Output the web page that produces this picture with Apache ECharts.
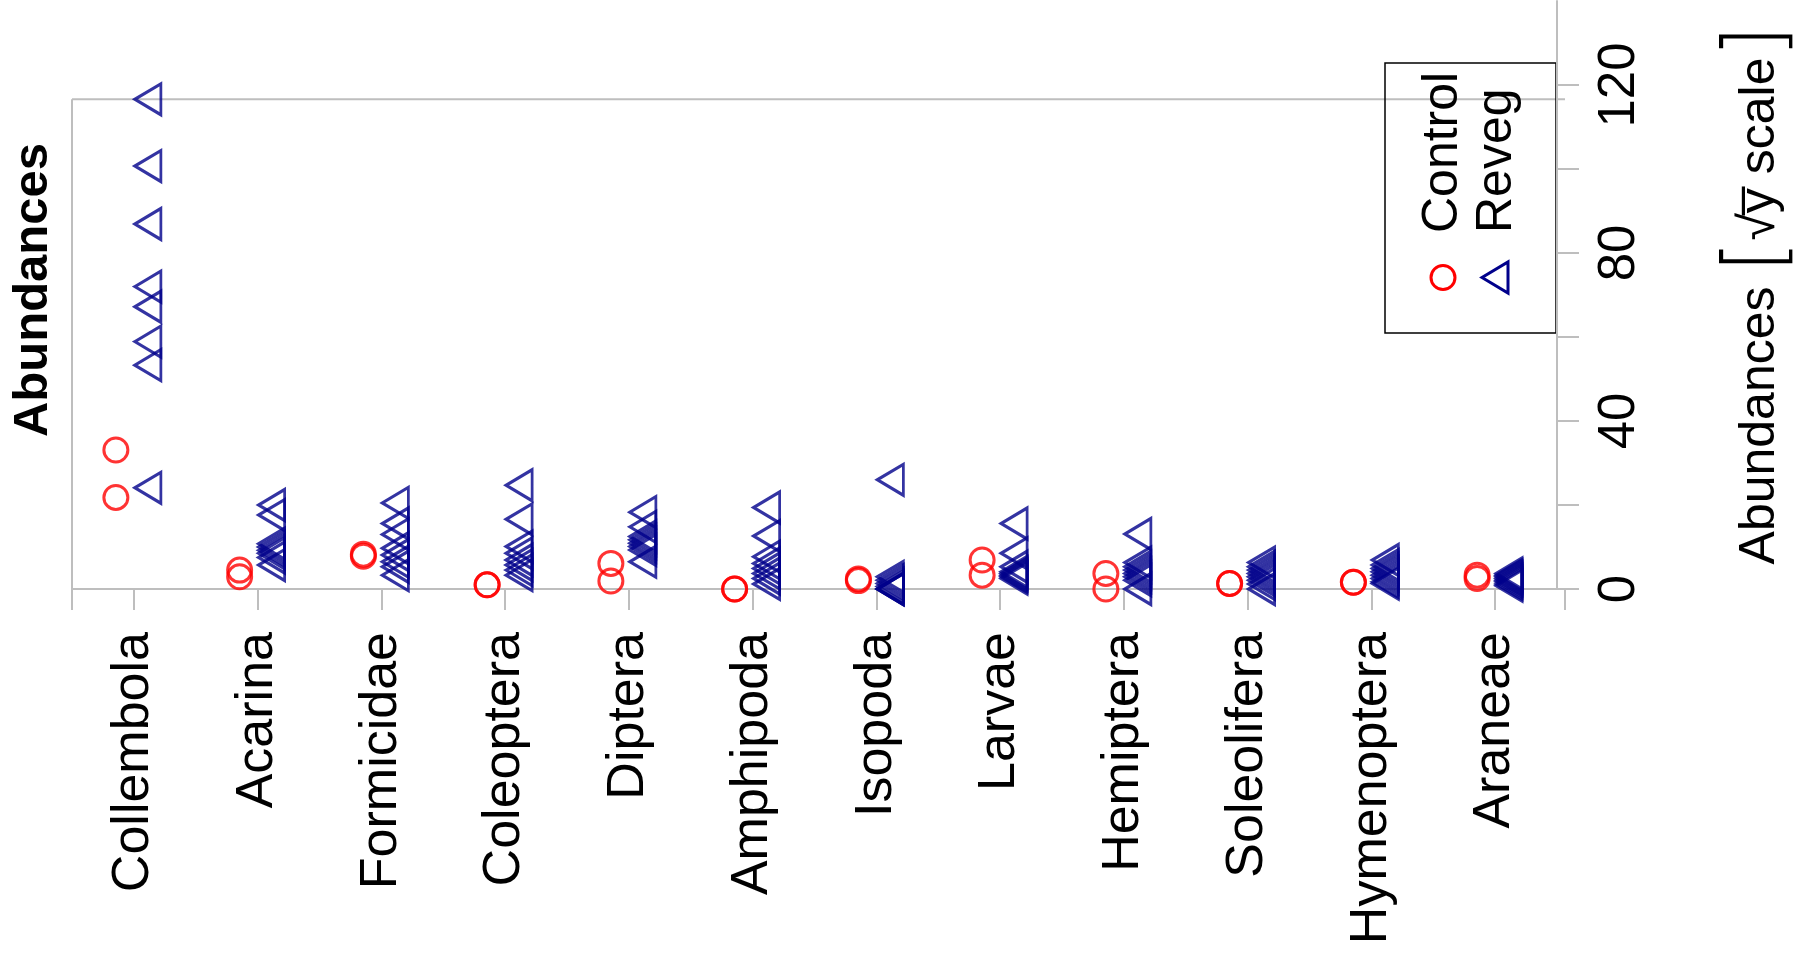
<!DOCTYPE html>
<html>
<head>
<meta charset="utf-8">
<script src="https://cdn.jsdelivr.net/npm/echarts@6/dist/echarts.min.js"></script>
<style>
  html, body { margin: 0; padding: 0; background: #ffffff; }
  #chart { width: 1809px; height: 955px; }
</style>
</head>
<body>
<div id="chart"></div>
<script>
// Taxa on the horizontal axis
const taxa = ['Collembola', 'Acarina', 'Formicidae', 'Coleoptera', 'Diptera', 'Amphipoda',
              'Isopoda', 'Larvae', 'Hemiptera', 'Soleolifera', 'Hymenoptera', 'Araneae'];

// Abundances per plot, one list per taxon (2 control plots, 8 revegetated plots)
const controlCounts = [
  [33.1, 21.8], [4.5, 2.9], [8.3, 7.8], [1.0, 1.0], [6.1, 1.9], [0, 0],
  [2.4, 2.0], [6.9, 3.3], [3.7, 0], [1.3, 1.3], [1.6, 1.6], [3.3, 2.5]
];
const revegCounts = [
  [116.6, 100.7, 86.9, 72.0, 67.2, 58.9, 53.3, 24.1],
  [20.0, 17.6, 10.8, 10.0, 9.2, 8.5, 7.5, 5.7],
  [20.5, 15.6, 13.0, 9.7, 8.1, 6.5, 5.3, 3.3],
  [24.7, 16.6, 10.1, 8.5, 6.9, 5.7, 4.5, 3.3],
  [18.3, 14.8, 12.5, 11.7, 10.9, 10.1, 9.3, 6.5],
  [19.4, 12.6, 7.7, 6.1, 4.9, 3.7, 2.5, 1.2],
  [26.0, 2.9, 2.1, 1.3, 0.6, 0, 0, 0],
  [15.6, 8.5, 5.3, 4.1, 3.7, 3.3, 2.9, 2.5],
  [13.1, 6.3, 5.3, 4.5, 3.7, 2.9, 2.1, 0],
  [6.3, 5.3, 4.5, 3.7, 2.9, 2.1, 1.2, 0],
  [6.9, 5.7, 4.9, 4.1, 3.3, 2.5, 1.7, 1.3],
  [3.7, 3.3, 2.9, 2.5, 2.1, 1.7, 1.2, 0.8]
];

// Right-hand axis ticks and labels
const tickValues = [0, 20, 40, 60, 80, 100, 120];
const labelValues = [0, 40, 80, 120];
const axisMax = 140;

const groups = ['Control', 'Reveg'];

const FONT = "'Liberation Sans', Arial, Helvetica, sans-serif";
const GRAY = '#bebebe';
const RED = '#ff0000';
const BLUE = '#00008b';

const GRID = { left: 72, right: 244, top: 1, bottom: 366 };
const W = 1809;
const plotRight = W - GRID.right;

function toPoints(lists) {
  const pts = [];
  lists.forEach((vals, i) => vals.forEach(v => pts.push([taxa[i], v])));
  return pts;
}

const chart = echarts.init(document.getElementById('chart'), null, { renderer: 'canvas' });

chart.setOption({
  animation: false,
  backgroundColor: '#ffffff',
  textStyle: { fontFamily: FONT },
  grid: GRID,
  xAxis: {
    type: 'category',
    data: taxa,
    boundaryGap: true,
    axisLine: { show: true, lineStyle: { color: GRAY, width: 2 } },
    axisTick: { show: true, alignWithLabel: true, length: 21, lineStyle: { color: GRAY, width: 2 } },
    axisLabel: { rotate: 90, margin: 43, fontSize: 52, color: '#000', fontFamily: FONT, interval: 0 },
    splitLine: { show: false }
  },
  yAxis: {
    type: 'value',
    position: 'right',
    min: 0,
    max: axisMax,
    axisLine: { show: true, lineStyle: { color: GRAY, width: 2 } },
    axisTick: { show: true, length: 22, customValues: tickValues, lineStyle: { color: GRAY, width: 2 } },
    axisLabel: { rotate: 90, margin: 37, fontSize: 51, color: '#000', fontFamily: FONT, customValues: labelValues },
    splitLine: { show: false },
    name: '{t|Abundances }{k|[}{t|\u221Ay\u0305 scale}{k|]}',
    nameLocation: 'middle',
    nameRotate: 90,
    nameGap: 158,
    nameTextStyle: {
      color: '#000',
      rich: {
        t: { fontSize: 50, fontFamily: FONT, color: '#000', lineHeight: 90 },
        k: { fontSize: 82, fontFamily: "'DejaVu Sans', sans-serif", fontWeight: 200, color: '#000', lineHeight: 90 }
      }
    }
  },
  series: [
    {
      name: groups[0],
      type: 'scatter',
      data: toPoints(controlCounts),
      symbol: 'circle',
      symbolSize: 24,
      symbolOffset: [-18, 0],
      itemStyle: { color: 'rgba(0,0,0,0)', borderColor: RED, borderWidth: 3 },
      emphasis: { disabled: true },
      z: 3
    },
    {
      name: groups[1],
      type: 'scatter',
      data: toPoints(revegCounts),
      symbol: 'triangle',
      symbolSize: [31, 26],
      symbolRotate: 90,
      symbolOffset: [14, 0],
      itemStyle: { color: 'rgba(0,0,0,0)', borderColor: BLUE, borderWidth: 3 },
      emphasis: { disabled: true },
      z: 4
    }
  ]
});

// Frame lines: left edge and a top edge at the largest observed abundance
const dataMax = Math.max(...revegCounts.flat(), ...controlCounts.flat());
const yTop = chart.convertToPixel({ yAxisIndex: 0 }, dataMax);
const yZero = chart.convertToPixel({ yAxisIndex: 0 }, 0);
const tickLen = 21;
const frameStyle = { stroke: GRAY, lineWidth: 2 };

chart.setOption({
  graphic: [
    { type: 'line', z: 0, silent: true, shape: { x1: GRID.left, y1: yTop, x2: GRID.left, y2: yZero + tickLen }, style: frameStyle },
    { type: 'line', z: 0, silent: true, shape: { x1: GRID.left, y1: yTop, x2: plotRight, y2: yTop }, style: frameStyle },
    { type: 'line', z: 0, silent: true, shape: { x1: plotRight, y1: yZero, x2: plotRight, y2: yZero + tickLen }, style: frameStyle },
    {
      type: 'text', x: 33, y: 290, rotation: Math.PI / 2, silent: true,
      style: { text: 'Abundances', fontSize: 49, fontWeight: 'bold', fontFamily: FONT, fill: '#000', align: 'center', verticalAlign: 'middle' }
    },
    {
      // Legend box, laid out upright then turned a quarter turn
      type: 'group', x: 1385, y: 333, rotation: Math.PI / 2, silent: true,
      children: [
        { type: 'rect', shape: { x: 0, y: 0, width: 270, height: 171 }, style: { fill: 'none', stroke: '#000', lineWidth: 1.5 } },
        { type: 'circle', shape: { cx: 55.5, cy: 58, r: 12 }, style: { fill: 'none', stroke: RED, lineWidth: 3 } },
        { type: 'polygon', shape: { points: [[55.5, 97], [40, 123], [71, 123]] }, style: { fill: 'none', stroke: BLUE, lineWidth: 3 } },
        { type: 'text', x: 100, y: 58, style: { text: groups[0], fontSize: 50, fontFamily: FONT, fill: '#000', align: 'left', verticalAlign: 'middle' } },
        { type: 'text', x: 100, y: 112, style: { text: groups[1], fontSize: 50, fontFamily: FONT, fill: '#000', align: 'left', verticalAlign: 'middle' } }
      ]
    }
  ]
});
</script>
</body>
</html>
